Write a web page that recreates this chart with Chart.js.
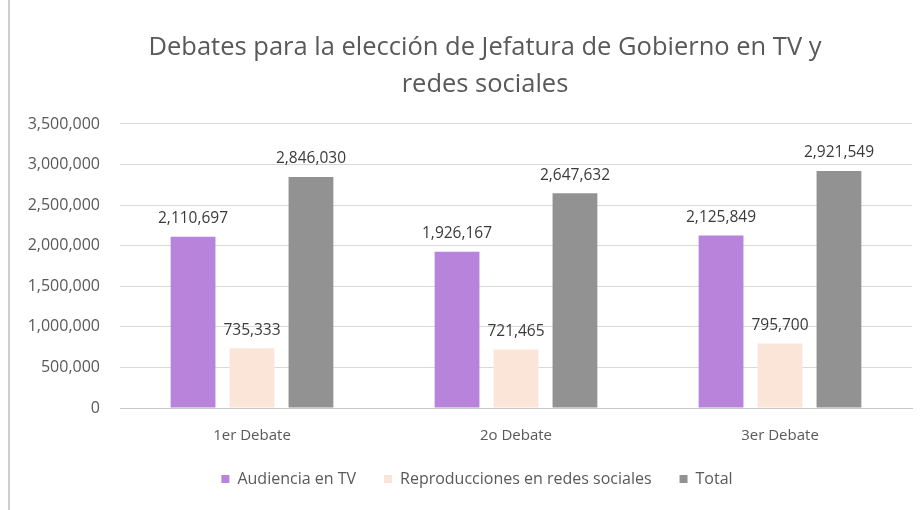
<!DOCTYPE html>
<html>
<head>
<meta charset="utf-8">
<script src="https://cdn.jsdelivr.net/npm/chart.js@4"></script>
<style>
html,body{margin:0;padding:0;background:#fff;}
#wrap{position:relative;width:921px;height:510px;}
#edge{position:absolute;left:8px;top:0;width:2px;height:510px;background:#cfcfcf;}
canvas{position:absolute;left:0;top:0;}
</style>
</head>
<body>
<div id="wrap"><canvas id="c" width="921" height="510"></canvas><div id="edge"></div></div>
<script>
const categories = ["1er Debate", "2o Debate", "3er Debate"];
const audienciaTV = [2110697, 1926167, 2125849];
const reproducciones = [735333, 721465, 795700];
const total = [2846030, 2647632, 2921549];
const seriesNames = ["Audiencia en TV", "Reproducciones en redes sociales", "Total"];
const titleLines = ["Debates para la elección de Jefatura de Gobierno en TV y", "redes sociales"];

const fmt = v => v.toLocaleString('en-US');
const FONT = '"Open Sans", sans-serif';

const labelPlugin = {
  id: 'valueLabels',
  afterDatasetsDraw(chart) {
    const ctx = chart.ctx;
    ctx.save();
    ctx.font = '15.5px ' + FONT;
    ctx.fillStyle = '#3a3a3a';
    ctx.textAlign = 'center';
    ctx.textBaseline = 'middle';
    chart.data.datasets.forEach((ds, i) => {
      chart.getDatasetMeta(i).data.forEach((bar, j) => {
        ctx.fillText(fmt(ds.data[j]), bar.x, bar.y - 18);
      });
    });
    ctx.restore();
  }
};

// nudge title and legend boxes to match the reference placement
const nudgePlugin = {
  id: 'nudge',
  afterLayout(chart) {
    const t = chart.titleBlock, l = chart.legend;
    if (t) { t.left += 23; t.right += 23; }
    if (l) { l.left += 15; l.right += 15; l.top -= 13; l.bottom -= 13; }
  }
};

new Chart(document.getElementById('c'), {
  type: 'bar',
  data: {
    labels: categories,
    datasets: [
      {label: seriesNames[0], data: audienciaTV, backgroundColor: '#B883DA'},
      {label: seriesNames[1], data: reproducciones, backgroundColor: '#FBE5D8'},
      {label: seriesNames[2], data: total, backgroundColor: '#929292'}
    ]
  },
  options: {
    responsive: false,
    animation: false,
    devicePixelRatio: 1,
    layout: {padding: {left: 12, right: 9, top: 0, bottom: 0}},
    datasets: {bar: {categoryPercentage: 0.67, barPercentage: 0.76}},
    plugins: {
      title: {
        display: true,
        text: titleLines,
        color: '#595959',
        font: {family: FONT, size: 25.5, weight: 'normal', lineHeight: 1.45},
        padding: {top: 29, bottom: 21}
      },
      legend: {
        position: 'bottom',
        labels: {
          boxWidth: 8, boxHeight: 8,
          color: '#595959',
          font: {family: FONT, size: 16},
          padding: 28
        }
      },
      tooltip: {enabled: false}
    },
    scales: {
      x: {
        grid: {display: false},
        border: {color: '#c8c8c8'},
        ticks: {color: '#595959', font: {family: FONT, size: 15}, padding: 11}
      },
      y: {
        min: 0, max: 3500000,
        ticks: {stepSize: 500000, color: '#595959', font: {family: FONT, size: 16}, padding: 20, callback: v => fmt(v)},
        grid: {color: '#d9d9d9', drawTicks: false},
        border: {display: false},
        afterFit: s => { s.width = 108; }
      }
    }
  },
  plugins: [labelPlugin, nudgePlugin]
});
</script>
</body>
</html>
